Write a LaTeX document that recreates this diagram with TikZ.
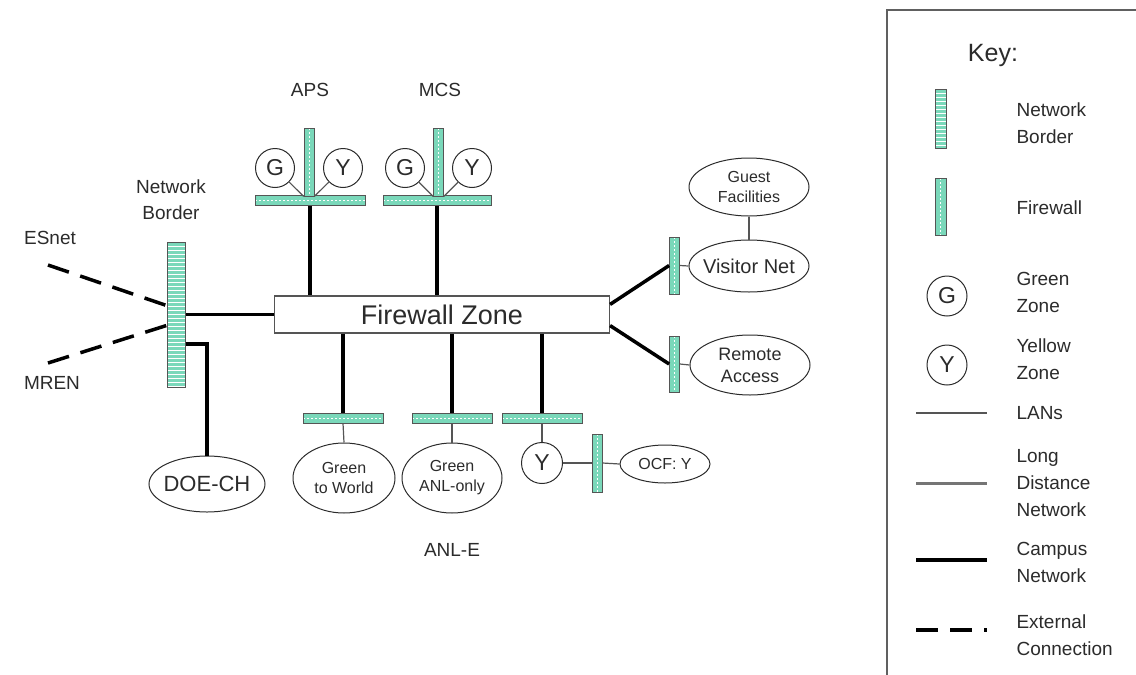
\documentclass[tikz,border=0pt]{standalone}
\usepackage{fontspec}
\setmainfont{Liberation Sans}
\usetikzlibrary{positioning,shapes.geometric,calc}
\definecolor{ink}     {HTML}{2B2B2B}
\definecolor{seafoam} {HTML}{7AD8BA}
\definecolor{rim}     {HTML}{555555}
\tikzset{
  every node/.style={text=ink},
  % --- bars
  nb/.style   = {draw=rim, fill=seafoam, line width=1pt, minimum width=18, minimum height=145,
                 inner sep=0pt,
                 path picture={\foreach \k in {1,...,40}
                   \draw[white, line width=0.7pt]
                     ([yshift=-4*\k]path picture bounding box.north west) --
                     ([yshift=-4*\k]path picture bounding box.north east);}},
  fwv/.style  = {draw=rim, fill=seafoam, line width=0.8pt, minimum width=10, minimum height=57,
                 inner sep=0pt,
                 path picture={\draw[white, line width=0.8pt, dash pattern=on 1.5pt off 2.5pt]
                   (path picture bounding box.north) -- (path picture bounding box.south);}},
  fwh/.style  = {draw=rim, fill=seafoam, line width=0.8pt, minimum width=80, minimum height=10,
                 inner sep=0pt,
                 path picture={\draw[white, line width=0.8pt, dash pattern=on 1.5pt off 2.5pt]
                   (path picture bounding box.west) -- (path picture bounding box.east);}},
  % --- nodes
  zone/.style = {circle, draw=ink, line width=1pt, minimum size=39, inner sep=0pt,
                 font=\fontsize{23}{23}\selectfont},
  site/.style = {ellipse, draw=ink, line width=1pt, inner sep=0pt, align=center,
                 font=\fontsize{16}{20}\selectfont},
  lbl/.style  = {align=center, font=\fontsize{19}{26}\selectfont},
  keylbl/.style = {align=left, anchor=west, font=\fontsize{19}{27}\selectfont},
  % --- links
  lan/.style    = {draw=ink!80, line width=1.2pt},
  ldist/.style  = {draw=ink!65, line width=3pt},
  campus/.style = {draw=black, line width=3.5pt},
  ext/.style    = {draw=black, line width=3.5pt, dash pattern=on 22pt off 12pt},
}
\begin{document}
\begin{tikzpicture}[x=1pt, y=-1pt]
  \useasboundingbox (0,0) rectangle (1136,675);

  % --- core
  \node[draw=rim, line width=1.2pt, minimum width=335, minimum height=37, inner sep=0pt,
        font=\fontsize{27}{27}\selectfont] (fz) at (442,314.5) {Firewall Zone};
  \node[nb] (border) at (176,314.5) {};
  \node[lbl] (borderlbl) at (171,200) {Network\\Border};
  \node[lbl] (esnet) at (50,238) {ESnet};
  \node[lbl] (mren) at (52,383) {MREN};
  \coordinate (esnetend) at (48,265);
  \coordinate (mrenend) at (48,363);
  \node[site, minimum width=116, minimum height=56, inner xsep=-9pt,
        font=\fontsize{22}{22}\selectfont] (doe) at (207,484) {DOE-CH};

  % --- APS / MCS
  \node[lbl] (aps) at (310,90) {APS};
  \node[lbl] (mcs) at (440,90) {MCS};
  \node[fwh, minimum width=110] (apsbar) at (310,200.5) {};
  \node[fwv, minimum height=68] (apsv) at (309,162) {};
  \node[zone] (apsg) at (275,168) {G};
  \node[zone] (apsy) at (343,168) {Y};
  \node[fwh, minimum width=108] (mcsbar) at (437,200.5) {};
  \node[fwv, minimum height=68] (mcsv) at (438.5,162) {};
  \node[zone] (mcsg) at (405,168) {G};
  \node[zone] (mcsy) at (472,168) {Y};

  % --- ANL-E
  \node[fwh] (gwbar) at (343,418) {};
  \node[fwh] (gabar) at (452,418) {};
  \node[fwh] (ybar) at (542,418) {};
  \node[site, minimum width=102, minimum height=70] (gworld) at (344,478) {Green\\to World};
  \node[site, minimum width=100, minimum height=70] (ganl) at (452,478) {Green\\ANL-only};
  \node[zone, minimum size=41] (yb) at (542,463) {Y};
  \node[fwv, minimum height=58] (ocffw) at (597,463) {};
  \node[site, minimum width=90, minimum height=38] (ocf) at (665,464) {OCF: Y};
  \node[lbl] (anle) at (452,550) {ANL-E};

  % --- visitors
  \node[fwv] (vfw) at (674.5,265.5) {};
  \node[fwv, minimum height=56] (rfw) at (674.5,364) {};
  \node[site, minimum width=120, minimum height=58] (guest) at (749,187) {Guest\\Facilities};
  \node[site, minimum width=120, minimum height=52, inner xsep=-7pt,
        font=\fontsize{20}{20}\selectfont] (visitor) at (749,266) {Visitor Net};
  \node[site, minimum width=120, minimum height=60, font=\fontsize{18}{22}\selectfont]
        (remote) at (750,365) {Remote\\Access};

  % --- links
  \draw[ext] (esnetend) -- ($(border.west)+(0,-9)$);
  \draw[ext] (mrenend) -- ($(border.west)+(0,11)$);
  \draw[campus] (border.east) -- (fz.west);
  \draw[campus] ($(border.east)+(0,29.5)$) -| (doe.north);
  \draw[campus] (apsbar.south) -- (apsbar.south |- fz.north);
  \draw[campus] (mcsbar.south) -- (mcsbar.south |- fz.north);
  \draw[campus] (gwbar.north |- fz.south) -- (gwbar.north);
  \draw[campus] (gabar.north |- fz.south) -- (gabar.north);
  \draw[campus] (ybar.north |- fz.south) -- (ybar.north);
  \draw[campus] ($(fz.north east)+(0,9)$) -- (vfw.west);
  \draw[campus] ($(fz.south east)+(0,-8)$) -- (rfw.west);
  \draw[lan] (apsg) -- (apsv.south west);
  \draw[lan] (apsy) -- (apsv.south east);
  \draw[lan] (mcsg) -- (mcsv.south west);
  \draw[lan] (mcsy) -- (mcsv.south east);
  \draw[lan] (gwbar.south) -- (gworld.north);
  \draw[lan] (gabar.south) -- (ganl.north);
  \draw[lan] (ybar.south) -- (yb.north);
  \draw[lan] (yb.east) -- (ocffw.west);
  \draw[lan] (ocffw.east) -- (ocf.west);
  \draw[lan] (vfw.east) -- (visitor.west);
  \draw[lan] (rfw.east) -- (remote.west);
  \draw[lan] (guest.south) -- (visitor.north);

  % --- key
  \draw[draw=ink!75, line width=1.5pt] (1140,10) -- (887,10) -- (887,680);
  \node[font=\fontsize{25}{25}\selectfont] (keytitle) at (993,55) {Key:};
  \node[nb, minimum width=11, minimum height=59] (knb) at (940.5,118.5) {};
  \node[keylbl] (knblbl) at (1013,123.5) {Network\\Border};
  \node[fwv, minimum width=11] (kfw) at (940.5,206.5) {};
  \node[keylbl] (kfwlbl) at (1013,208) {Firewall};
  \node[zone, minimum size=40] (kg) at (947,296) {G};
  \node[keylbl] (kglbl) at (1013,292) {Green\\Zone};
  \node[zone, minimum size=40] (ky) at (947,365) {Y};
  \node[keylbl] (kylbl) at (1013,359) {Yellow\\Zone};
  \coordinate (klanA) at (916,413);  \coordinate (klanB) at (987,413);
  \node[keylbl] (klanlbl) at (1013,413) {LANs};
  \coordinate (kldA) at (916,483);   \coordinate (kldB) at (987,483);
  \node[keylbl] (kldlbl) at (1013,483) {Long\\Distance\\Network};
  \coordinate (kcampA) at (916,560); \coordinate (kcampB) at (987,560);
  \node[keylbl] (kcamplbl) at (1013,562) {Campus\\Network};
  \coordinate (kextA) at (916,630);  \coordinate (kextB) at (987,630);
  \node[keylbl] (kextlbl) at (1013,635) {External\\Connection};
  \draw[lan] (klanA) -- (klanB);
  \draw[ldist] (kldA) -- (kldB);
  \draw[campus] (kcampA) -- (kcampB);
  \draw[ext] (kextA) -- (kextB);
\end{tikzpicture}
\end{document}
